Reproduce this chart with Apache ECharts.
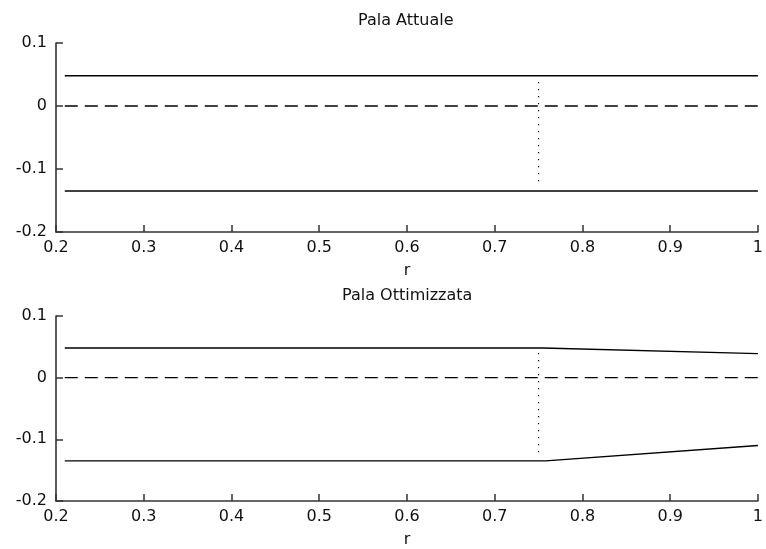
<!DOCTYPE html>
<html>
<head>
<meta charset="utf-8">
<script src="https://cdn.jsdelivr.net/npm/echarts@6/dist/echarts.min.js"></script>
<style>
  html, body { margin: 0; padding: 0; background: #fff; }
  #chart { width: 766px; height: 549px; }
</style>
</head>
<body>
<div id="chart"></div>
<script>
// titoli e asse
const titles = ['Pala Attuale', 'Pala Ottimizzata']
const xTicks = [0.2, 0.3, 0.4, 0.5, 0.6, 0.7, 0.8, 0.9, 1]
const yTicks = [-0.2, -0.1, 0, 0.1]

// pala attuale
const rAtt = [0.21, 1.0]
const upperAtt = [0.048, 0.048]
const lowerAtt = [-0.135, -0.135]

// pala ottimizzata
const rUpperOtt = [0.21, 0.755, 1.0]
const upperOtt = [0.048, 0.048, 0.039]
const rLowerOtt = [0.21, 0.758, 1.0]
const lowerOtt = [-0.135, -0.135, -0.110]

// linea dello zero e sezione r = 0.75
const rZero = [0.21, 1.0]
const zeroLine = [0, 0]
const rSection = 0.75
const sectionAtt = [0.038, -0.125]
const sectionOtt = [0.040, -0.126]

const font = 'DejaVu Sans'
const axisColor = '#333'

const pairs = (xs, ys) => xs.map((x, i) => [x, ys[i]])

const makeX = (gridIndex) => ({
  type: 'value',
  gridIndex: gridIndex,
  min: xTicks[0],
  max: xTicks[xTicks.length - 1],
  interval: 0.1,
  name: 'r',
  nameLocation: 'middle',
  nameGap: 31,
  nameTextStyle: { color: '#111', fontFamily: font, fontSize: 16 },
  axisLine: { show: true, onZero: false, lineStyle: { color: axisColor, width: 1.6 } },
  axisTick: { show: true, inside: true, length: 7, lineStyle: { color: axisColor, width: 1.5 } },
  axisLabel: { color: '#111', fontFamily: font, fontSize: 16, margin: 8 },
  splitLine: { show: false }
})

const makeY = (gridIndex) => ({
  type: 'value',
  gridIndex: gridIndex,
  min: yTicks[0],
  max: yTicks[yTicks.length - 1],
  interval: 0.1,
  axisLine: { show: true, onZero: false, lineStyle: { color: axisColor, width: 1.6 } },
  axisTick: { show: true, inside: true, length: 7, lineStyle: { color: axisColor, width: 1.5 } },
  axisLabel: { color: '#111', fontFamily: font, fontSize: 16, margin: 9 },
  splitLine: { show: false }
})

const lineSeries = (idx, data, type, width) => ({
  type: 'line',
  xAxisIndex: idx,
  yAxisIndex: idx,
  data: data,
  symbol: 'none',
  silent: true,
  animation: false,
  lineStyle: { color: '#000', width: width || 1.4, type: type || 'solid' }
})

const chart = echarts.init(document.getElementById('chart'))

chart.setOption({
  backgroundColor: '#fff',
  animation: false,
  grid: [
    { left: 56, right: 6, top: 43, height: 189 },
    { left: 56, right: 6, top: 316, height: 189 }
  ],
  xAxis: [makeX(0), makeX(1)],
  yAxis: [makeY(0), makeY(1)],
  graphic: [
    {
      type: 'text', left: 408 - 50, top: 13,
      style: { text: titles[0], fill: '#111', font: '16px "' + font + '"' }
    },
    {
      type: 'text', left: 408 - 66, top: 288,
      style: { text: titles[1], fill: '#111', font: '16px "' + font + '"' }
    }
  ],
  series: [
    lineSeries(0, pairs(rAtt, upperAtt)),
    lineSeries(0, pairs(rAtt, lowerAtt)),
    lineSeries(0, pairs(rZero, zeroLine), [13, 7]),
    lineSeries(0, sectionAtt.map(v => [rSection, v]), [1.2, 5.8], 1.2),
    lineSeries(1, pairs(rUpperOtt, upperOtt)),
    lineSeries(1, pairs(rLowerOtt, lowerOtt)),
    lineSeries(1, pairs(rZero, zeroLine), [13, 7]),
    lineSeries(1, sectionOtt.map(v => [rSection, v]), [1.2, 5.8], 1.2)
  ]
})
</script>
</body>
</html>
